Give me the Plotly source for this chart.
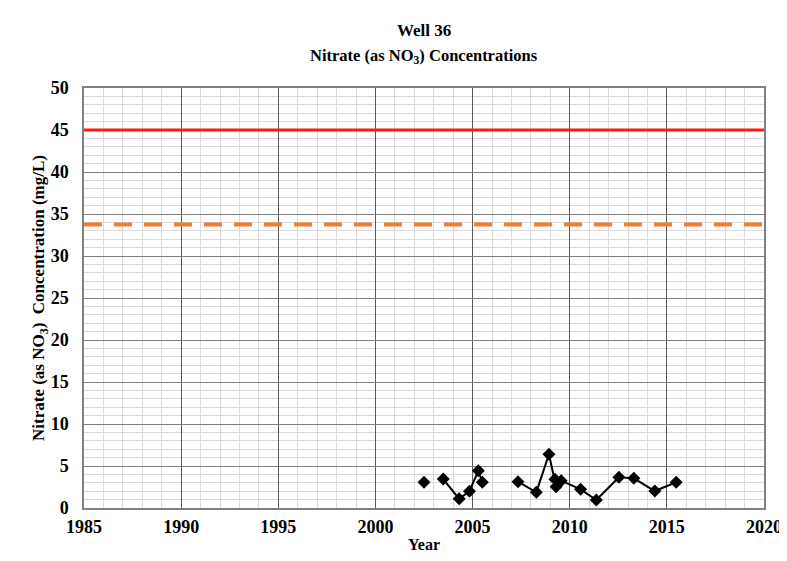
import plotly.graph_objects as go

# Sample dates (decimal years) and nitrate concentrations (mg/L); None marks a break in the line
years = [2002.5, None, 2003.49, 2004.31, 2004.84, 2005.3, 2005.5, None,
         2007.34, 2008.28, 2008.93, 2009.24, 2009.3, 2009.56, 2010.56, 2011.37,
         2012.53, 2013.3, 2014.38, 2015.48]
nitrate = [3.06, None, 3.45, 1.1, 2.0, 4.44, 3.06, None,
           3.13, 1.87, 6.39, 3.41, 2.54, 3.25, 2.22, 0.95,
           3.65, 3.53, 2.02, 3.06]

mcl_level = 45.0
trigger_level = 33.75
x_span = [1985, 2020]

title_line1 = "Well 36"
title_line2 = "Nitrate (as NO<sub>3</sub>) Concentrations"
x_title = "Year"

font_family = "Liberation Serif, Times New Roman, serif"

fig = go.Figure()
fig.add_trace(go.Scatter(x=x_span, y=[mcl_level, mcl_level], mode="lines",
                         line=dict(color="#ff1a1a", width=3), hoverinfo="skip", showlegend=False))
fig.add_trace(go.Scatter(x=x_span, y=[trigger_level, trigger_level], mode="lines",
                         line=dict(color="#ed7d31", width=4, dash="18px,12px"), hoverinfo="skip",
                         showlegend=False))
fig.add_trace(go.Scatter(x=years, y=nitrate, mode="lines+markers", connectgaps=False,
                         line=dict(color="black", width=2),
                         marker=dict(symbol="diamond", size=10, color="black"),
                         showlegend=False))

fig.update_layout(
    width=779, height=545,
    margin=dict(l=76, r=23, t=80, b=45, autoexpand=False),
    paper_bgcolor="white", plot_bgcolor="white",
    font=dict(family=font_family, color="black"),
    annotations=[
        dict(text="<b>" + title_line1 + "</b>", x=0.5, xref="paper", y=1.138, yref="paper",
             xanchor="center", yanchor="middle", showarrow=False,
             font=dict(size=17, family=font_family, color="black")),
        dict(text="<b>" + title_line2 + "</b>", x=0.5, xref="paper", y=1.076, yref="paper",
             xanchor="center", yanchor="middle", showarrow=False,
             font=dict(size=16.5, family=font_family, color="black")),
        dict(text="<b>" + x_title + "</b>", x=0.5, xref="paper", y=-0.088, yref="paper",
             xanchor="center", yanchor="middle", showarrow=False,
             font=dict(size=16, family=font_family, color="black")),
    ],
)
fig.update_xaxes(
    range=x_span, dtick=5, tick0=1985, showgrid=True, gridcolor="#5a5a5a", gridwidth=1,
    minor=dict(dtick=1, showgrid=True, gridcolor="#d9d9d9", gridwidth=1),
    showline=True, linecolor="#808080", linewidth=1.5, mirror=True, zeroline=False,
    automargin=False,
    ticks="", tickfont=dict(size=18, family=font_family, color="black"),
    ticklabelstandoff=2,
    tickformat="d", tickprefix="<b>", ticksuffix="</b>",
)
fig.update_yaxes(
    range=[0, 50], dtick=5, showgrid=True, gridcolor="#808080", gridwidth=1,
    minor=dict(dtick=1, showgrid=True, gridcolor="#d9d9d9", gridwidth=1),
    showline=True, linecolor="#808080", linewidth=1.5, mirror=True, zeroline=False,
    automargin=False,
    ticks="", tickfont=dict(size=18, family=font_family, color="black"),
    ticklabelstandoff=10,
    tickprefix="<b>", ticksuffix="</b>",
    title=dict(text="<b>Nitrate (as NO<sub>3</sub>)  Concentration (mg/L)</b>",
               font=dict(size=17, family=font_family, color="black"), standoff=0),
)

fig.write_html("out.html")
